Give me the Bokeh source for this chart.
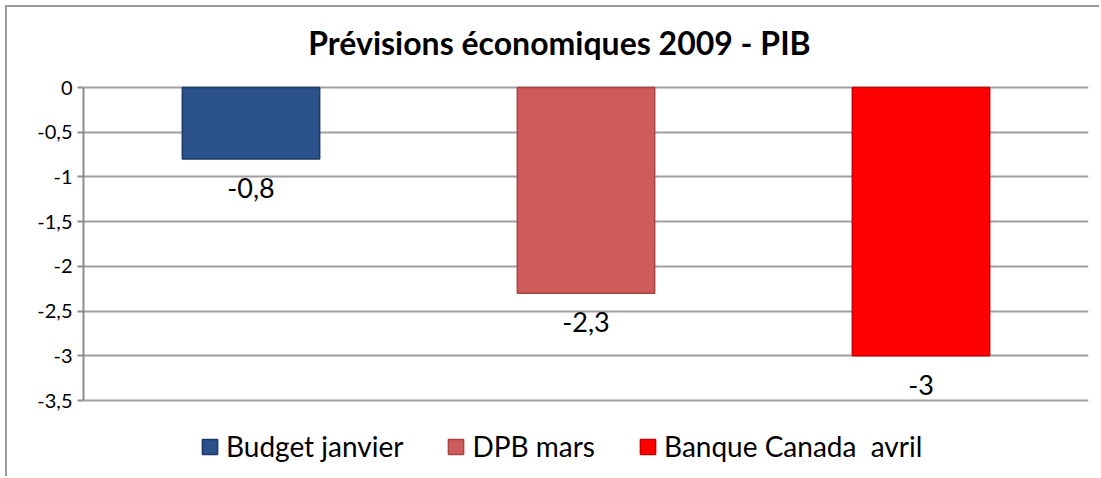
from bokeh.plotting import figure
from bokeh.models import (FactorRange, Range1d, FixedTicker, Legend, LegendItem,
                          ColumnDataSource, Label)
from bokeh.core.properties import value
from bokeh.embed import file_html
from bokeh.resources import INLINE

# ---- data ----
title_text = "Prévisions économiques 2009 - PIB"
series = ["Budget janvier", "DPB mars", "Banque Canada  avril"]
values = [-0.8, -2.3, -3.0]
value_labels = ["-0,8", "-2,3", "-3"]
colors = ["#2a5189", "#cd5b5a", "#fe0000"]
edge_colors = ["#1c3a66", "#a84442", "#c80000"]
y_ticks = [0.0, -0.5, -1.0, -1.5, -2.0, -2.5, -3.0, -3.5]
y_tick_labels = ["0", "-0,5", "-1", "-1,5", "-2", "-2,5", "-3", "-3,5"]

FONT = "Lato"

# layout (pixels): the axis covers 313px for 3.5 units; the frame extends
# 80px above it (title) and 78px below it (legend).
AXIS_PX = 313
ABOVE_PX = 80
BELOW_PX = 78
axis_min, axis_max = -3.5, 0.0
unit_px = AXIS_PX / (axis_max - axis_min)
y_start = axis_min - BELOW_PX / unit_px
y_end = axis_max + ABOVE_PX / unit_px

p = figure(width=1094, height=471,
           x_range=FactorRange(factors=series, range_padding=0),
           y_range=Range1d(y_start, y_end),
           output_backend="svg", toolbar_location=None,
           min_border_left=76, min_border_right=13,
           min_border_top=0, min_border_bottom=0)

p.styles = {"margin-left": "7px", "margin-top": "7px",
            "box-shadow": "-2px -2px 0 0 #9a9a9a"}

title = Label(x=476, y=436, x_units="screen", y_units="screen", text=title_text,
              text_font=FONT, text_font_style="bold", text_font_size="32px",
              text_align="center", text_baseline="middle", text_color="black")
p.add_layout(title)

src = ColumnDataSource(dict(x=series, v=values, c=colors, e=edge_colors, lab=value_labels))
bars = p.vbar(x="x", top=0, bottom="v", width=0.41, source=src,
              fill_color="c", line_color="e", line_width=1.5)

p.text(x="x", y="v", text="lab", source=src, text_align="center",
       text_baseline="middle", y_offset=29, text_font=value(FONT),
       text_font_size="27px", text_color="black")

ticker = FixedTicker(ticks=y_ticks)
p.yaxis.ticker = ticker
p.ygrid.ticker = ticker
p.yaxis.bounds = (axis_min, axis_max)
p.yaxis.major_label_overrides = dict(zip(y_ticks, y_tick_labels))
p.yaxis.axis_line_color = "#8c8c8c"
p.yaxis.axis_line_width = 2
p.yaxis.major_tick_line_color = "#8c8c8c"
p.yaxis.major_tick_line_width = 2
p.yaxis.major_tick_out = 6
p.yaxis.major_tick_in = 0
p.yaxis.minor_tick_line_color = None
p.yaxis.major_label_standoff = 5
p.yaxis.major_label_text_font = FONT
p.yaxis.major_label_text_font_size = "20px"
p.yaxis.major_label_text_color = "black"

p.xaxis.visible = False
p.xgrid.visible = False
p.ygrid.grid_line_color = "#a0a0a0"
p.ygrid.grid_line_width = 2
p.outline_line_color = None
p.background_fill_color = "white"
p.border_fill_color = "white"

items = [LegendItem(label=series[i], renderers=[bars], index=i) for i in range(len(series))]
legend = Legend(items=items, orientation="horizontal", location=(117, 15),
                border_line_color=None, background_fill_alpha=0, padding=0,
                spacing=43, label_standoff=7, glyph_width=19, glyph_height=19,
                label_text_font=FONT, label_text_font_size="28px",
                label_text_color="black", margin=0)
p.add_layout(legend)

open("out.html", "w").write(file_html(p, INLINE))
